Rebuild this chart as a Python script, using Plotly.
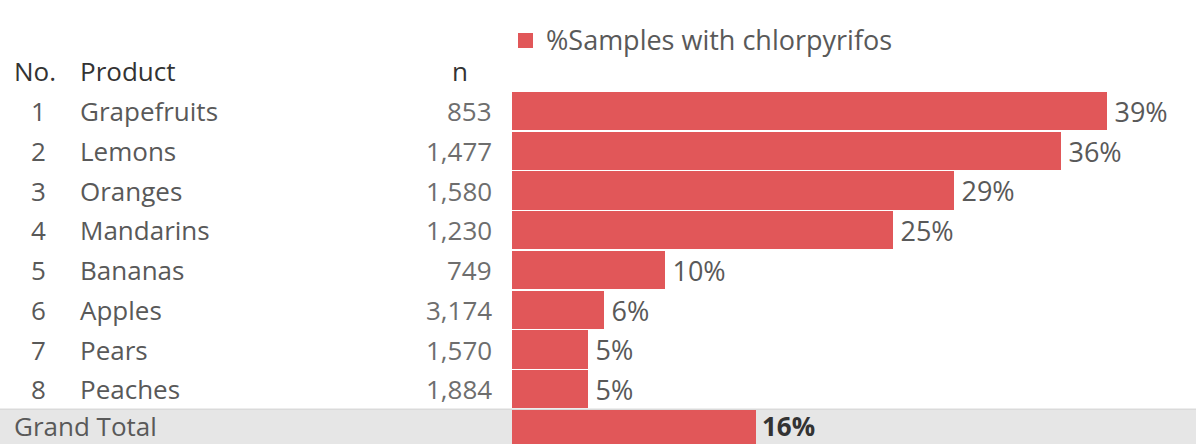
import plotly.graph_objects as go

# Table data
ranks = ["1", "2", "3", "4", "5", "6", "7", "8"]
products = ["Grapefruits", "Lemons", "Oranges", "Mandarins", "Bananas", "Apples", "Pears", "Peaches"]
n_samples = [853, 1477, 1580, 1230, 749, 3174, 1570, 1884]
pct_chlorpyrifos = [39, 36, 29, 25, 10, 6, 5, 5]
grand_total_label = "Grand Total"
grand_total_pct = 16
legend_label = "%Samples with chlorpyrifos"

W, H = 1196, 444
FONT = "Open Sans"
FS_TEXT = 26      # headers, product names
FS_NUM = 26       # numeric columns
FS_PCT = 27       # bar value labels
FS_LEG = 27
BAR_RED = "#E15759"
TXT = "#595959"
TXT_LIGHT = "#6e6e6e"
HEAD = "#333333"

rows = list(range(len(products) + 1))
values = pct_chlorpyrifos + [grand_total_pct]
# the total row's value label is placed separately so it sits inside the page
labels = ["\u2009" + f"{v}%" for v in pct_chlorpyrifos] + [""]

fig = go.Figure()
fig.add_trace(go.Bar(
    name=legend_label,
    x=values,
    y=rows,
    orientation="h",
    width=0.96,
    marker=dict(color=BAR_RED, line=dict(width=0)),
    text=labels,
    textposition="outside",
    textfont=dict(family=FONT, size=FS_PCT, color=TXT),
    cliponaxis=False,
    showlegend=False,
))

px_per_row = 39.75
first_center = 111
ymin = -first_center / px_per_row
ymax = ymin + H / px_per_row

x_left = 512 / W
x_span_px = W - 512
x_max = x_span_px / ((1107 - 512) / 39)


def xp(px):
    return px / W


def yp(px):
    return 1 - px / H


total_row_y = len(products) - 3 / px_per_row

annotations = []
# header row
annotations += [
    dict(x=xp(12), y=-1, xref="paper", yref="y", text="No.", xanchor="left",
         showarrow=False, font=dict(family=FONT, size=FS_TEXT, color=HEAD)),
    dict(x=xp(78), y=-1, xref="paper", yref="y", text="Product", xanchor="left",
         showarrow=False, font=dict(family=FONT, size=FS_TEXT, color=HEAD)),
    dict(x=xp(460), y=-1, xref="paper", yref="y", text="n", xanchor="center",
         showarrow=False, font=dict(family=FONT, size=FS_TEXT, color=HEAD)),
]
for i, (r, p, n) in enumerate(zip(ranks, products, n_samples)):
    annotations += [
        dict(x=xp(38), y=i, xref="paper", yref="y", text=r, xanchor="center",
             showarrow=False, font=dict(family=FONT, size=FS_NUM, color=TXT)),
        dict(x=xp(78), y=i, xref="paper", yref="y", text=p, xanchor="left",
             showarrow=False, font=dict(family=FONT, size=FS_TEXT, color=TXT)),
        dict(x=xp(494), y=i, xref="paper", yref="y", text=f"{n:,}", xanchor="right",
             showarrow=False, font=dict(family=FONT, size=FS_NUM, color=TXT_LIGHT)),
    ]
annotations += [
    dict(x=xp(12), y=total_row_y, xref="paper", yref="y",
         text=grand_total_label, xanchor="left", showarrow=False,
         font=dict(family=FONT, size=FS_TEXT, color=TXT)),
    dict(x=grand_total_pct, y=total_row_y, xref="x", yref="y",
         text=f"<b>{grand_total_pct}%</b>", xanchor="left", xshift=4, showarrow=False,
         font=dict(family=FONT, size=FS_PCT - 1, color=HEAD)),
]
# colour legend
annotations.append(
    dict(x=xp(544), y=yp(40), xref="paper", yref="paper", text=legend_label,
         xanchor="left", yanchor="middle", showarrow=False,
         font=dict(family=FONT, size=FS_LEG, color=TXT))
)

shapes = [
    # grand total band
    dict(type="rect", xref="paper", yref="y", x0=0, x1=1, y0=len(products) - 0.5, y1=ymax + 1,
         fillcolor="#e6e6e6", line=dict(width=0), layer="below"),
    dict(type="line", xref="paper", yref="y", x0=0, x1=1, y0=len(products) - 0.5,
         y1=len(products) - 0.5, line=dict(color="#cfcfcf", width=1), layer="below"),
    # legend swatch
    dict(type="rect", xref="paper", yref="paper", x0=xp(518), x1=xp(533), y0=yp(48), y1=yp(33),
         fillcolor=BAR_RED, line=dict(width=0)),
]

fig.update_layout(
    width=W, height=H,
    margin=dict(l=0, r=0, t=0, b=0),
    paper_bgcolor="white", plot_bgcolor="rgba(0,0,0,0)",
    bargap=0,
    xaxis=dict(domain=[x_left, 1], range=[0, x_max], visible=False, fixedrange=True),
    yaxis=dict(range=[ymax, ymin], visible=False, fixedrange=True),
    showlegend=False,
    annotations=annotations,
    shapes=shapes,
    font=dict(family=FONT),
)

fig.write_html("out.html")
